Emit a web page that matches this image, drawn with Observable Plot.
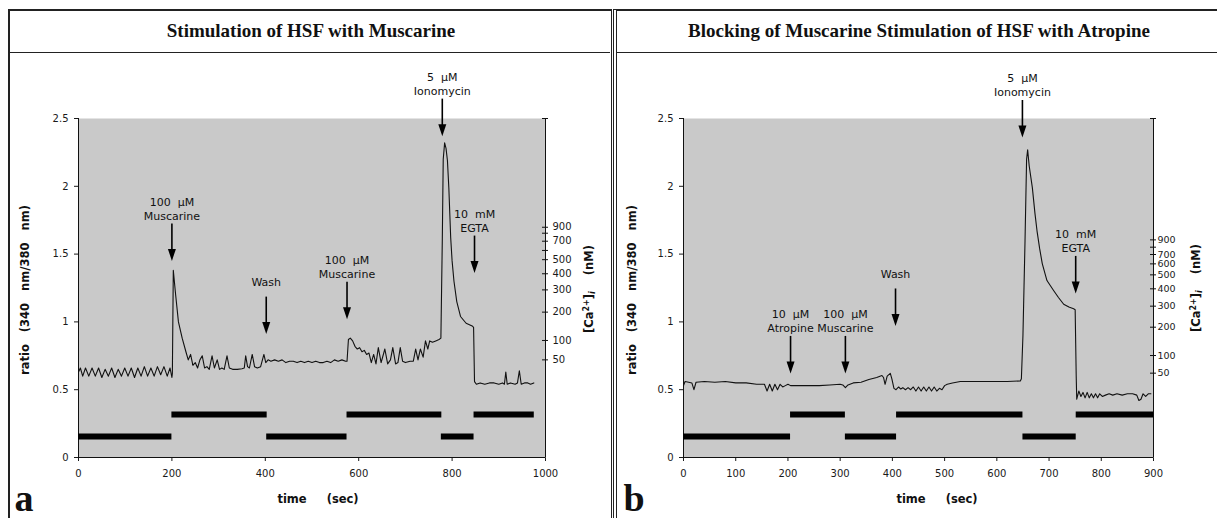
<!DOCTYPE html>
<html><head><meta charset="utf-8">
<script src="https://cdn.jsdelivr.net/npm/d3@7"></script>
<script src="https://cdn.jsdelivr.net/npm/@observablehq/plot@0.6"></script>
<style>
html,body{margin:0;padding:0;background:#fff;overflow:hidden;width:1217px;height:518px;}
#root{position:relative;width:1217px;height:518px;font-family:"DejaVu Sans",sans-serif;color:#111;}
.abs{position:absolute;}
.title{position:absolute;font-family:"Liberation Serif","Times New Roman",serif;font-weight:bold;font-size:19px;white-space:nowrap;transform:translate(-50%,-50%);color:#111;}
.rot{position:absolute;transform:translate(-50%,-50%) rotate(-90deg);white-space:pre;font-weight:bold;font-size:11.5px;line-height:1;}
.xl{position:absolute;transform:translate(-50%,-50%);white-space:pre;font-weight:bold;font-size:11.5px;line-height:1;}
.pl{position:absolute;font-family:"Liberation Serif","Times New Roman",serif;font-weight:bold;font-size:38px;line-height:1;transform:translate(-50%,-50%);}
sup{font-size:8px;vertical-align:4px;line-height:0;}
sub{font-size:8px;vertical-align:-2px;line-height:0;}
</style></head>
<body><div id="root">
<div class="abs" style="left:8px;top:9px;width:601px;height:530px;border-left:2px solid #222;border-top:2px solid #222;border-right:1.5px solid #222;"></div>
<div class="abs" style="left:613px;top:9px;width:620px;height:530px;border-left:4px double #222;border-top:2px solid #222;"></div>
<div class="abs" style="left:10px;top:52px;width:600px;height:0;border-top:1.5px solid #222;"></div>
<div class="abs" style="left:617px;top:52px;width:600px;height:0;border-top:1.5px solid #222;"></div>
<div class="title" style="left:311px;top:31px;">Stimulation of HSF with Muscarine</div>
<div class="title" style="left:919px;top:31px;">Blocking of Muscarine Stimulation of HSF with Atropine</div>
<div id="pa" class="abs" style="left:12px;top:56px;"></div>
<div id="pb" class="abs" style="left:618px;top:56px;"></div>
<div class="rot" style="left:26px;top:290px;">ratio   (340   nm/380   nm)</div>
<div class="rot" style="left:633px;top:290px;">ratio   (340   nm/380   nm)</div>
<div class="rot" style="left:590px;top:289px;">[Ca<sup>2+</sup>]<sub><i>i</i></sub>    (nM)</div>
<div class="rot" style="left:1197px;top:288px;">[Ca<sup>2+</sup>]<sub><i>i</i></sub>    (nM)</div>
<div class="xl" style="left:318px;top:500px;">time     (sec)</div>
<div class="xl" style="left:937px;top:500px;">time     (sec)</div>
<div class="pl" style="left:24px;top:498px;">a</div>
<div class="pl" style="left:634px;top:498px;">b</div>
</div>
<script>
// ---------- Panel a: Stimulation of HSF with Muscarine ----------
const timeA = [0,4,9,15,22,29,36,43,50,57,64,71,78,85,92,99,106,113,120,127,134,141,148,155,162,169,176,183,190,196,200,
201,203,208,214,222,230,235,240,245,250,255,260,265,270,275,280,286,291,297,302,307,312,318,323,330,340,350,355,358,362,366,372,377,383,390,397,401,406,
412,420,428,436,444,452,460,468,476,484,492,500,508,516,524,532,540,548,556,564,572,
575,578,582,587,592,597,602,607,612,617,622,627,632,637,642,648,656,662,668,673,679,684,689,694,700,710,717,722,727,732,738,743,748,752,758,765,772,776,
779,781,784,787,790,793,797,800,804,810,818,830,843,846,
848,852,860,870,880,890,900,908,912,915,918,925,935,940,944,948,955,962,968,975];
const ratioA = [0.63,0.66,0.6,0.66,0.6,0.66,0.6,0.66,0.59,0.65,0.6,0.66,0.59,0.65,0.6,0.66,0.6,0.66,0.59,0.66,0.6,0.67,0.6,0.66,0.6,0.67,0.61,0.67,0.6,0.66,0.59,
0.62,1.38,1.2,1.0,0.88,0.78,0.72,0.76,0.68,0.7,0.66,0.72,0.75,0.66,0.67,0.65,0.75,0.66,0.72,0.65,0.66,0.65,0.75,0.66,0.65,0.65,0.655,0.66,0.75,0.67,0.66,0.76,0.67,0.66,0.67,0.76,0.7,0.72,
0.71,0.72,0.71,0.72,0.7,0.71,0.71,0.7,0.71,0.7,0.71,0.7,0.71,0.7,0.7,0.71,0.7,0.72,0.71,0.72,0.71,
0.71,0.87,0.88,0.86,0.82,0.8,0.81,0.78,0.79,0.76,0.77,0.7,0.76,0.69,0.81,0.7,0.8,0.69,0.72,0.81,0.69,0.7,0.81,0.71,0.7,0.71,0.71,0.8,0.72,0.8,0.74,0.86,0.8,0.86,0.85,0.86,0.87,0.88,
1.6,2.2,2.32,2.28,2.19,1.99,1.62,1.45,1.3,1.15,1.04,0.99,0.97,0.96,
0.56,0.54,0.55,0.54,0.55,0.55,0.54,0.55,0.54,0.63,0.54,0.55,0.54,0.55,0.64,0.54,0.55,0.55,0.54,0.55];
const barStartA = [0,200,403,575,777,847];
const barEndA   = [200,404,575,778,847,976];
const barRowA   = [0,1,0,1,0,1];
const eventTimeA  = [200,402,575,779,848];
const eventRatioA = [1.45,0.91,1.02,2.37,1.36];
const eventLabelA = ["100\u00a0 µM\nMuscarine","Wash","100\u00a0 µM\nMuscarine","5\u00a0 µM\nIonomycin","10\u00a0 mM\nEGTA"];
const caValueA = [50,100,200,300,400,500,600,700,800,900];
const caRatioA = [0.72,0.863,1.072,1.236,1.355,1.459,1.527,1.595,1.654,1.698];
const caShownA = [50,100,200,300,400,500,700,900];
const xTicksA = [0,200,400,600,800,1000];

// ---------- Panel b: Blocking with Atropine ----------
const timeB = [0,3,10,16,20,24,40,60,80,100,120,140,155,160,165,170,175,180,185,190,195,200,205,220,240,260,280,300,305,310,315,325,340,355,370,380,383,386,390,396,399,403,407,412,416,420,425,430,435,440,445,450,455,460,465,470,475,480,485,490,495,500,505,515,530,560,590,620,645,647,650,654,657,659,662,668,673,677,682,687,692,696,702,709,718,728,738,747,750,752,753,757,761,765,769,773,777,781,785,789,793,797,802,808,815,822,830,840,850,860,868,872,876,880,885,890,895];
const ratioB = [0.53,0.56,0.555,0.55,0.5,0.555,0.56,0.555,0.56,0.55,0.55,0.54,0.54,0.49,0.54,0.49,0.54,0.5,0.54,0.52,0.53,0.54,0.53,0.53,0.53,0.53,0.535,0.54,0.535,0.515,0.535,0.55,0.555,0.575,0.59,0.605,0.59,0.54,0.6,0.62,0.58,0.51,0.5,0.52,0.505,0.515,0.5,0.515,0.5,0.52,0.49,0.52,0.49,0.52,0.49,0.52,0.49,0.52,0.49,0.51,0.5,0.53,0.54,0.55,0.56,0.56,0.56,0.56,0.565,0.58,0.9,1.6,2.2,2.27,2.15,1.99,1.8,1.67,1.54,1.43,1.36,1.305,1.27,1.23,1.18,1.13,1.11,1.097,1.09,0.6,0.43,0.49,0.45,0.48,0.44,0.48,0.44,0.47,0.44,0.47,0.44,0.47,0.45,0.46,0.47,0.46,0.47,0.46,0.47,0.47,0.46,0.42,0.43,0.47,0.45,0.47,0.47];
const barStartB = [0,205,310,408,650,752];
const barEndB   = [205,310,408,650,752,900];
const barRowB   = [0,1,0,1,0,1];
const eventTimeB  = [205,310,406,649,751];
const eventRatioB = [0.62,0.62,0.97,2.36,1.21];
const eventLabelB = ["10\u00a0 µM\nAtropine","100\u00a0 µM\nMuscarine","Wash","5\u00a0 µM\nIonomycin","10\u00a0 mM\nEGTA"];
const caValueB = [50,100,200,300,400,500,600,700,800,900];
const caRatioB = [0.622,0.752,0.961,1.116,1.244,1.347,1.428,1.497,1.551,1.605];
const caShownB = [50,100,200,300,400,500,600,700,900];
const xTicksB = [0,100,200,300,400,500,600,700,800,900];

const yTicks = [0,0.5,1,1.5,2,2.5];
const barLevel = [0.155,0.317]; // ratio level of the two bar rows

const headSymbol = {draw(ctx){ ctx.moveTo(-4,-12); ctx.lineTo(4,-12); ctx.lineTo(0,0); ctx.closePath(); }};

function panel(o){
  const trace = o.time.map((t,i)=>({t, r:o.ratio[i]}));
  const bars = o.barStart.map((s,i)=>({s, e:o.barEnd[i], row:o.barRow[i]}));
  const ev = o.evT.map((t,i)=>({t, tip:o.evR[i], label:o.evL[i]}));
  const ca = o.caV.map((v,i)=>({v, r:o.caR[i], shown:o.caShown.includes(v)}));
  const xMax = o.xMax;
  return Plot.plot({
    width:o.width, height:462,
    marginTop:62, marginBottom:61, marginLeft:o.mL, marginRight:o.mR,
    style:{fontFamily:"DejaVu Sans, sans-serif", fontSize:"10px", color:"#1a1a1a", background:"transparent", overflow:"visible"},
    x:{domain:[0,xMax], ticks:o.xTicks, tickSize:4, tickPadding:8, label:null, tickFormat:d=>String(d)},
    y:{domain:[0,2.5], ticks:yTicks, tickSize:4, tickPadding:6, label:null, tickFormat:d=>String(d)},
    marks:[
      Plot.frame({fill:"#c9c9c9", stroke:"none"}),
      Plot.ruleX([0],{stroke:"#111"}),
      Plot.ruleX([xMax],{stroke:"#111"}),
      Plot.ruleY([0],{stroke:"#111"}),
      Plot.ruleY(ca,{y:"r", x1:()=>xMax, x2:()=>xMax, insetLeft:-3, insetRight:-3, stroke:"#111"}),
      Plot.ruleY([2.5],{x1:()=>xMax, x2:()=>xMax, insetLeft:-3, insetRight:-3, stroke:"#111"}),
      Plot.text(ca.filter(d=>d.shown),{x:()=>xMax, y:"r", text:d=>String(d.v), textAnchor:"start", dx:o.caDx, fontSize:o.caFont, fill:"#1a1a1a"}),
      Plot.ruleY(bars,{x1:"s", x2:"e", y:d=>barLevel[d.row], stroke:"#000", strokeWidth:6}),
      Plot.line(trace,{x:"t", y:"r", stroke:"#111", strokeWidth:1.1}),
      Plot.ruleX(ev,{x:"t", y1:"tip", y2:"tip", insetTop:-8, insetBottom:37, stroke:"#000", strokeWidth:1.6}),
      Plot.dot(ev,{x:"t", y:"tip", symbol:headSymbol, r:4, fill:"#000", stroke:"none"}),
      Plot.text(ev.filter(d=>d.label.includes("\n")),{x:"t", y:"tip", text:"label", dy:-41, lineAnchor:"bottom", lineHeight:1.3, fontSize:11, fill:"#111"}),
      Plot.text(ev.filter(d=>!d.label.includes("\n")),{x:"t", y:"tip", text:"label", dy:-48, lineAnchor:"bottom", fontSize:11, fill:"#111"})
    ]
  });
}

document.getElementById("pa").appendChild(panel({
  time:timeA, ratio:ratioA, barStart:barStartA, barEnd:barEndA, barRow:barRowA,
  evT:eventTimeA, evR:eventRatioA, evL:eventLabelA, caV:caValueA, caR:caRatioA, caShown:caShownA,
  xMax:1000, xTicks:xTicksA, width:598, mL:66, mR:65, caDx:7, caFont:10
}));
document.getElementById("pb").appendChild(panel({
  time:timeB, ratio:ratioB, barStart:barStartB, barEnd:barEndB, barRow:barRowB,
  evT:eventTimeB, evR:eventRatioB, evL:eventLabelB, caV:caValueB, caR:caRatioB, caShown:caShownB,
  xMax:900, xTicks:xTicksB, width:599, mL:65, mR:64, caDx:4, caFont:9.5
}));
</script>
</body></html>
